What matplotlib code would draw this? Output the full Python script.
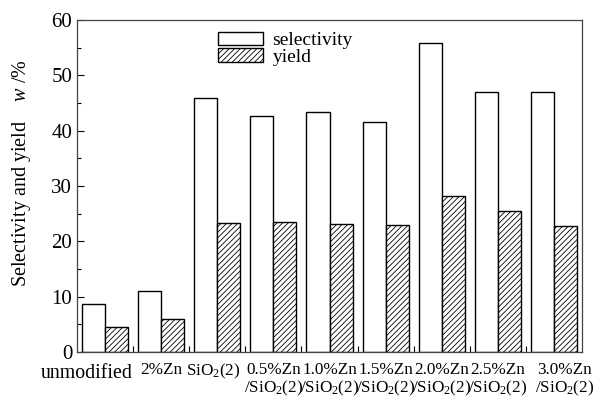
import numpy as np
import matplotlib
matplotlib.use("Agg")
import matplotlib.pyplot as plt
import matplotlib.transforms as mtransforms
from matplotlib.ticker import MultipleLocator, FixedLocator

plt.rcParams['font.family'] = ['Liberation Serif', 'DejaVu Serif']
plt.rcParams['mathtext.fontset'] = 'custom'
plt.rcParams['mathtext.rm'] = 'Liberation Serif'
plt.rcParams['mathtext.it'] = 'Liberation Serif:italic'
plt.rcParams['hatch.linewidth'] = 0.6

categories = ["unmodified", "2%Zn", "SiO$_2$(2)",
              "0.5%Zn\n/SiO$_2$(2)", "1.0%Zn\n/SiO$_2$(2)", "1.5%Zn\n/SiO$_2$(2)",
              "2.0%Zn\n/SiO$_2$(2)", "2.5%Zn\n/SiO$_2$(2)", "3.0%Zn\n/SiO$_2$(2)"]
selectivity = [8.7, 11.1, 45.9, 42.7, 43.4, 41.5, 55.8, 46.9, 47.0]
yield_ = [4.6, 6.0, 23.3, 23.5, 23.2, 22.9, 28.2, 25.4, 22.8]

fig = plt.figure(figsize=(5.94, 3.97), dpi=100)
ax = fig.add_axes([77 / 594, 45 / 397, 505 / 594, 332 / 397])

x = np.arange(len(categories))
w = 0.41
ax.bar(x - w / 2, selectivity, w, color="white", edgecolor="black",
       linewidth=1.0, label="selectivity")
ax.bar(x + w / 2, yield_, w, color="white", edgecolor="black",
       linewidth=1.0, hatch="//////", label="yield")

ax.set_xlim(-0.5, len(categories) - 0.5)
ax.set_ylim(0, 60)
ax.yaxis.set_major_locator(MultipleLocator(10))
ax.yaxis.set_minor_locator(MultipleLocator(5))
ax.set_xticks(x)
ax.set_xticklabels(categories, fontsize=12.3, linespacing=1.05)
ax.xaxis.set_minor_locator(FixedLocator(x[:-1] + 0.5))
ax.tick_params(axis="x", which="major", length=0, pad=7)
ax.tick_params(axis="x", which="minor", direction="in", length=4, width=0.8)
ax.tick_params(axis="y", which="major", direction="in", length=5, width=0.8,
               labelsize=15)
ax.tick_params(axis="y", which="minor", direction="in", length=3, width=0.8)
for s in ax.spines.values():
    s.set_linewidth(0.9)
    s.set_color("#444444")

# nudge the outer labels so they don't collide with neighbours / the edge
labels = ax.get_xticklabels()
labels[0].set_fontsize(14.3)
for lab, dx, dy in ((labels[0], -18, -2), (labels[2], -4, 0), (labels[-1], 11, 0)):
    lab.set_transform(lab.get_transform() +
                      mtransforms.ScaledTranslation(dx / 100, dy / 100, fig.dpi_scale_trans))

ax.set_ylabel(r"Selectivity and yield    $\mathit{w}$ /%", fontsize=14.5)
ax.yaxis.set_label_coords(-0.088, 0.54)

ax.legend(loc="upper left", bbox_to_anchor=(0.279, 0.965), frameon=False,
          fontsize=14, handlelength=2.3, handleheight=0.67, labelspacing=-0.04,
          handletextpad=0.5, borderpad=0, borderaxespad=0)

fig.savefig("out.png", dpi=100)
